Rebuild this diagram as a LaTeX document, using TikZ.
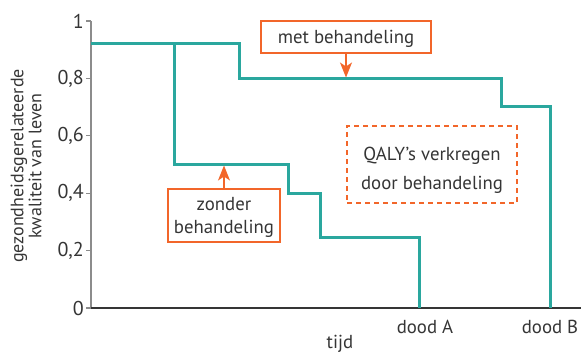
\documentclass[tikz,border=0pt]{standalone}
\usepackage{fontspec}
\setmainfont{PT Sans}
\usetikzlibrary{arrows.meta}
\definecolor{teal1}{HTML}{2AA79E}
\definecolor{org}{HTML}{F2662A}
\definecolor{txt}{HTML}{353535}
\definecolor{axg}{HTML}{8C8C8C}
\tikzset{
  curve/.style={teal1, line width=3pt, line join=miter},
  lbl/.style={font=\fontsize{18.8}{22}\selectfont, text=txt, inner sep=0pt},
  tick/.style={font=\fontsize{20}{22}\selectfont, text=txt, inner sep=0pt},
  obox/.style={draw=org, line width=1.3pt, inner sep=0pt},
  oarrow/.style={org, line width=1.4pt, -{Stealth[length=15pt,width=12pt,inset=4pt]}},
}
\begin{document}
\begin{tikzpicture}[x=1pt,y=-1pt]
\useasboundingbox (0,0) rectangle (581,353);
% axes
\draw[axg, line width=1.5pt] (91,21) -- (91,308);
\draw[txt, line width=1.5pt] (90.25,308) -- (581,308);
\foreach \yy/\lab in {21/1,78.4/{0,8},135.8/{0,6},193.2/{0,4},250.6/{0,2},308/0}{
  \draw[axg, line width=1.2pt] (86,\yy) -- (91,\yy);
  \node[tick, anchor=east] at (84,\yy) {\lab};
}
% y label
\node[lbl, rotate=90, align=center, font=\fontsize{18}{18}\selectfont] (ylab) at (26,166) {gezondheidsgerelateerde\\kwaliteit van leven};
% curves
\draw[curve] (91,44) -- (239,44) -- (239,79) -- (501,79) -- (501,106) -- (550,106) -- (550,308);
\draw[curve] (174,44) -- (174,164) -- (288,164) -- (288,193) -- (320,193) -- (320,237) -- (419,237) -- (419,308);
% boxes
\node[obox, minimum width=170pt, minimum height=32pt] (met) at (346,37) {};
\node[lbl, anchor=base] at (346,44) {met behandeling};
\node[obox, minimum width=112pt, minimum height=53pt] (zon) at (224,215.5) {};
\node[lbl, anchor=base] at (224,210) {zonder};
\node[lbl, anchor=base] at (224,233) {behandeling};
\node[draw=org, dashed, dash pattern=on 5pt off 4pt, line width=1.2pt, minimum width=170pt, minimum height=77pt, inner sep=0pt] (qaly) at (432,164.5) {};
\node[lbl, anchor=base] at (432,160) {QALY’s verkregen};
\node[lbl, anchor=base] at (432,189) {door behandeling};
\coordinate (metend) at (346,77.5);
\coordinate (zonend) at (224,165.5);
\draw[oarrow] (met.south) -- (metend);
\draw[oarrow] (zon.north) -- (zonend);
% x labels
\node[lbl, anchor=base] (da) at (425,333) {dood A};
\node[lbl, anchor=base] (db) at (550,333) {dood B};
\node[lbl, anchor=base] (tijd) at (340,348) {tijd};
\end{tikzpicture}
\end{document}
